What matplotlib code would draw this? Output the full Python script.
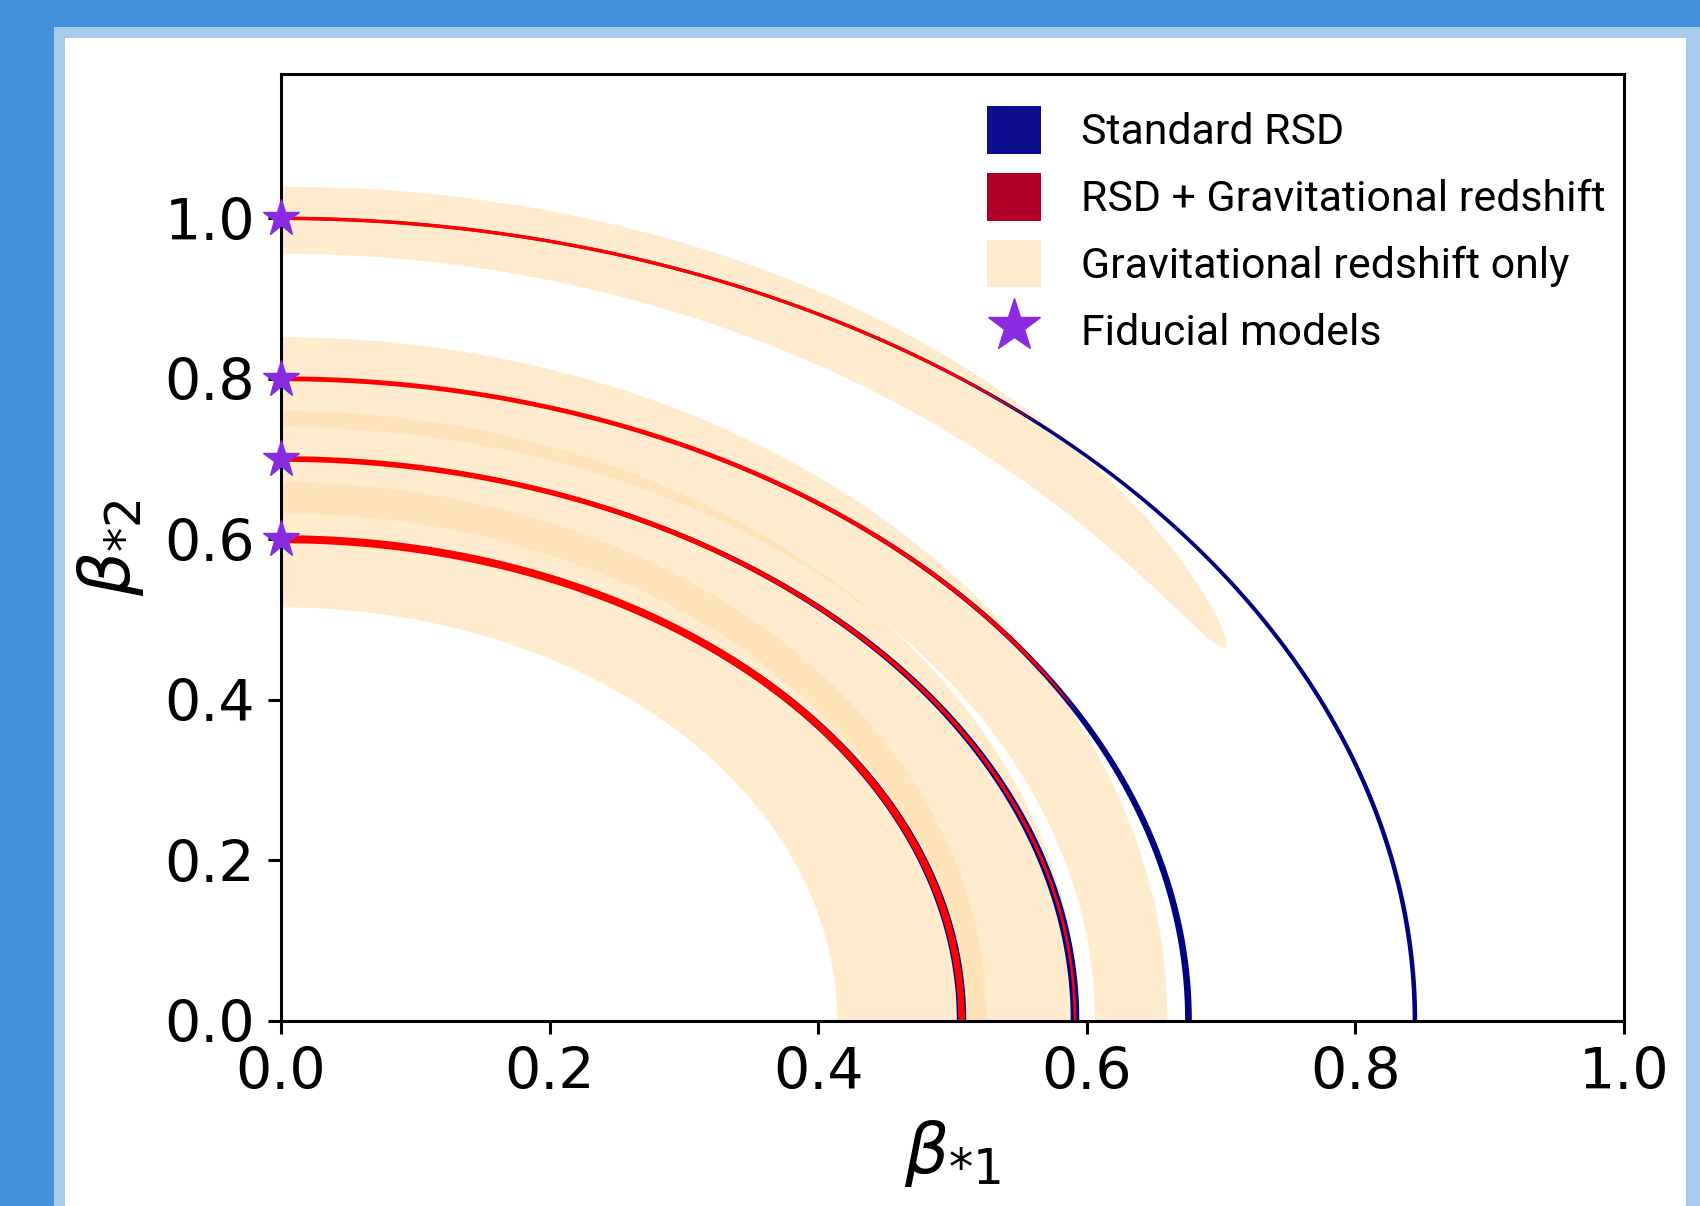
import numpy as np
import matplotlib
matplotlib.use("Agg")
import matplotlib.pyplot as plt
from matplotlib.patches import Rectangle, Patch
from matplotlib.lines import Line2D

# fiducial models (beta_*2 on the axis, beta_*1 = 0)
fiducial_b2 = [1.0, 0.8, 0.7, 0.6]

# Standard RSD contours: intercepts on both axes and half widths there
rsd_b1 = [0.8443, 0.6757, 0.5912, 0.5067]
rsd_b2 = [1.0, 0.8, 0.7, 0.6]
rsd_hw_b1 = [0.0017, 0.0025, 0.0032, 0.0035]
rsd_hw_b2 = [0.0018, 0.0020, 0.0025, 0.0040]

# RSD + gravitational redshift: same arcs, narrower, some stop early
comb_hw_b1 = [0.0010, 0.0012, 0.0010, 0.0025]
comb_hw_b2 = [0.0022, 0.0030, 0.0035, 0.0050]
comb_end_b1 = [0.56, 0.59, 0.0, 0.0]
comb_end_b2 = [0.745, 0.387, 0.0, 0.0]

# Gravitational redshift only: bands for fiducials 0.8, 0.7, 0.6
gr_inner_b1 = [0.606, 0.505, 0.414]
gr_inner_b2 = [0.740, 0.632, 0.515]
gr_outer_b1 = [0.660, 0.5935, 0.5255]
gr_outer_b2 = [0.852, 0.760, 0.671]
# fiducial 1.0: crescent, extent on the beta_*2 axis and its tip
cres_b2 = [0.956, 1.040]
cres_tip = [0.703, 0.465]

legend_labels = ["Standard RSD", "RSD + Gravitational redshift",
                 "Gravitational redshift only", "Fiducial models"]

W, H = 1700, 1206
fig = plt.figure(figsize=(W / 100, H / 100), dpi=100)
fig.patch.set_facecolor("#4490da")
fig.add_artist(Rectangle((54 / W, 0), 1, 1 - 27 / H, transform=fig.transFigure,
                         facecolor="#a8cbec", edgecolor="none", zorder=-2))
fig.add_artist(Rectangle((65 / W, 0), (1686 - 65) / W, 1 - 38 / H, transform=fig.transFigure,
                         facecolor="white", edgecolor="none", zorder=-1))

ax = fig.add_axes([281 / W, 1 - 1020.5 / H, (1624 - 281) / W, (1020.5 - 74) / H])
ax.set_facecolor("none")


def band(a, b, da, db, t0=0.0, taper=0.0, **kw):
    t = np.linspace(t0, np.pi / 2, 500)
    s = np.ones_like(t)
    if taper > 0:
        s = np.clip((t - t0) / taper, 0, 1) ** 0.6
    xo, yo = (a + da * s) * np.cos(t), (b + db * s) * np.sin(t)
    xi, yi = (a - da * s) * np.cos(t), (b - db * s) * np.sin(t)
    ax.fill(np.r_[xo, xi[::-1]], np.r_[yo, yi[::-1]], lw=0, **kw)


peach = dict(color="navajowhite", alpha=0.6, zorder=1)

# gravitational redshift only, fiducial 1.0: long ellipse in (beta1^2, beta2^2)
v_lo, v_hi = cres_b2[0] ** 2, cres_b2[1] ** 2
c = np.array([0.0, (v_lo + v_hi) / 2])
hv = (v_hi - v_lo) / 2
d = np.array([cres_tip[0] ** 2, cres_tip[1] ** 2]) - c
L = np.hypot(*d)
e = d / L
n = np.array([-e[1], e[0]])
t0 = hv * e[0]
w = 1 / np.sqrt(1 / t0 ** 2 - (e[1] / (e[0] * L)) ** 2)
phi = np.linspace(0, 2 * np.pi, 1000)
u = c[0] + L * np.cos(phi) * e[0] + w * np.sin(phi) * n[0]
v = c[1] + L * np.cos(phi) * e[1] + w * np.sin(phi) * n[1]
ax.fill(np.sign(u) * np.sqrt(np.abs(u)), np.sqrt(np.abs(v)), lw=0, **peach)

# gravitational redshift only, other fiducials
t = np.linspace(0, np.pi / 2, 500)
for ai, bi, ao, bo in zip(gr_inner_b1, gr_inner_b2, gr_outer_b1, gr_outer_b2):
    ax.fill(np.r_[ao * np.cos(t), ai * np.cos(t[::-1])],
            np.r_[bo * np.sin(t), bi * np.sin(t[::-1])], lw=0, **peach)

# standard RSD
for a, b, da, db in zip(rsd_b1, rsd_b2, rsd_hw_b1, rsd_hw_b2):
    band(a, b, da, db, color="navy", zorder=2)

# RSD + gravitational redshift
for a, b, da, db, x1, y1 in zip(rsd_b1, rsd_b2, comb_hw_b1, comb_hw_b2,
                                comb_end_b1, comb_end_b2):
    if x1 > 0:
        te = np.arctan2(y1 / b, x1 / a)
        band(a, b, da, db, t0=te, taper=0.12, color="red", zorder=3)
    else:
        band(a, b, da, db, color="red", zorder=3)

ax.plot(np.zeros(len(fiducial_b2)), fiducial_b2, ls="none", marker="*", ms=28,
        color="blueviolet", mec="blueviolet", clip_on=False, zorder=6)

ax.set_xlim(0, 1.0)
ax.set_ylim(0, 1.18)
ax.set_xticks(np.arange(0, 1.01, 0.2))
ax.set_yticks(np.arange(0, 1.01, 0.2))
ax.tick_params(direction="out", length=9.5, width=2.2, labelsize=41, pad=9)
for sp in ax.spines.values():
    sp.set_linewidth(2.2)
    sp.set_zorder(5)

ax.set_xlabel(r"$\beta_{*1}$", fontsize=50)
ax.set_ylabel(r"$\beta_{*2}$", fontsize=50)
ax.xaxis.set_label_coords(0.5, -0.103)
ax.yaxis.set_label_coords(-0.1005, 0.5)

handles = [Patch(facecolor="#0d0d8f"), Patch(facecolor="#b00028"),
           Patch(facecolor="#ffebcd"),
           Line2D([], [], ls="none", marker="*", ms=40, color="#8a2be2")]
ax.legend(handles, legend_labels, frameon=False,
          prop={"family": ["Roboto", "DejaVu Sans"], "size": 30.9},
          handlelength=1.25, handleheight=1.33, handletextpad=0.94,
          labelspacing=0.45, borderpad=0, borderaxespad=0,
          loc="upper left", bbox_to_anchor=(987 / W, 1 - 106 / H),
          bbox_transform=fig.transFigure)

fig.savefig("out.png", dpi=100, facecolor=fig.get_facecolor())
